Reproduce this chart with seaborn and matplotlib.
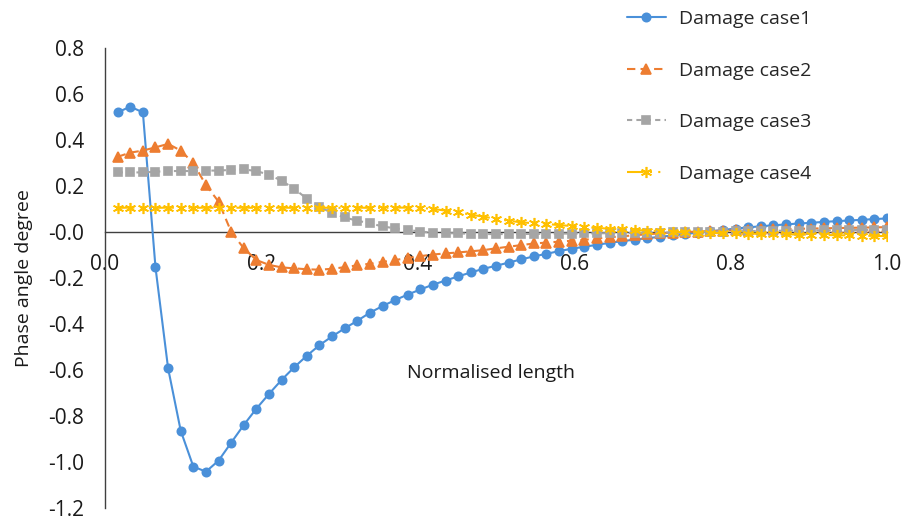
import numpy as np
import pandas as pd
import seaborn as sns
import matplotlib.pyplot as plt
from matplotlib.ticker import FormatStrFormatter

sns.set_style('white')
plt.rcParams['font.family'] = ['Open Sans', 'DejaVu Sans']

# sampling positions along the beam (62 stations)
x = [i / 62 for i in range(1, 63)]

case1 = [0.520, 0.545, 0.520, -0.154, -0.593, -0.864, -1.020, -1.042, -0.994, -0.916,
         -0.839, -0.768, -0.704, -0.643, -0.588, -0.538, -0.492, -0.454, -0.419, -0.386,
         -0.351, -0.322, -0.296, -0.272, -0.250, -0.229, -0.211, -0.193, -0.176, -0.160,
         -0.147, -0.133, -0.119, -0.106, -0.095, -0.083, -0.073, -0.064, -0.056, -0.047,
         -0.040, -0.033, -0.027, -0.021, -0.015, -0.009, -0.003, 0.003, 0.009, 0.015,
         0.020, 0.025, 0.029, 0.033, 0.037, 0.040, 0.044, 0.047, 0.050, 0.053,
         0.056, 0.059]
case2 = [0.327, 0.345, 0.354, 0.368, 0.383, 0.354, 0.299, 0.204, 0.132, 0.001,
         -0.071, -0.122, -0.143, -0.154, -0.158, -0.162, -0.164, -0.160, -0.153, -0.145,
         -0.138, -0.130, -0.122, -0.113, -0.105, -0.098, -0.093, -0.089, -0.084, -0.079,
         -0.071, -0.064, -0.057, -0.050, -0.046, -0.042, -0.038, -0.034, -0.028, -0.023,
         -0.019, -0.014, -0.010, -0.006, -0.003, 0.000, 0.002, 0.004, 0.006, 0.008,
         0.009, 0.011, 0.012, 0.013, 0.014, 0.015, 0.016, 0.017, 0.018, 0.019,
         0.020, 0.021]
case3 = [0.259, 0.259, 0.259, 0.262, 0.265, 0.265, 0.265, 0.267, 0.267, 0.270,
         0.272, 0.265, 0.249, 0.223, 0.188, 0.145, 0.110, 0.082, 0.063, 0.049,
         0.038, 0.024, 0.016, 0.009, 0.002, -0.003, -0.005, -0.006, -0.008, -0.009,
         -0.009, -0.009, -0.009, -0.008, -0.008, -0.007, -0.007, -0.006, -0.006, -0.005,
         -0.005, -0.004, -0.004, -0.003, -0.002, -0.001, 0.000, 0.001, 0.002, 0.003,
         0.004, 0.004, 0.005, 0.006, 0.006, 0.007, 0.007, 0.008, 0.008, 0.009,
         0.009, 0.010]
case4 = [0.105, 0.106, 0.105, 0.105, 0.106, 0.105, 0.105, 0.106, 0.105, 0.105,
         0.106, 0.105, 0.105, 0.106, 0.105, 0.105, 0.106, 0.105, 0.105, 0.106,
         0.105, 0.105, 0.106, 0.106, 0.105, 0.100, 0.093, 0.086, 0.075, 0.067,
         0.057, 0.049, 0.042, 0.038, 0.035, 0.030, 0.026, 0.021, 0.018, 0.014,
         0.011, 0.009, 0.006, 0.004, 0.001, -0.001, -0.003, -0.004, -0.005, -0.006,
         -0.007, -0.008, -0.009, -0.010, -0.011, -0.012, -0.013, -0.014, -0.015, -0.016,
         -0.017, -0.018]

labels = ['Damage case1', 'Damage case2', 'Damage case3', 'Damage case4']
colors = ['#4A90D9', '#ED7D31', '#A5A5A5', '#FFC000']
markers = ['o', '^', 's', (6, 2, 0)]
msizes = [6, 7, 6, 8]
dashes = [(None, None), (4, 2.5), (2.5, 2), (8, 3, 1, 3, 1, 3)]

df = pd.DataFrame({'x': x, labels[0]: case1, labels[1]: case2,
                   labels[2]: case3, labels[3]: case4})

fig = plt.figure(figsize=(9.04, 5.17), dpi=100)
ax = fig.add_axes([0.1162, 0.0174, 0.8650, 0.8898])

for i, lab in enumerate(labels):
    kw = dict(color=colors[i], marker=markers[i], markersize=msizes[i],
              markeredgecolor=colors[i], markerfacecolor=colors[i],
              markeredgewidth=1.2, linewidth=1.5, label=lab, zorder=3 + i)
    if dashes[i][0] is not None:
        kw['dashes'] = dashes[i]
    sns.lineplot(data=df, x='x', y=lab, ax=ax, **kw)

ax.set_xlim(0, 1)
ax.set_ylim(-1.2, 0.8)
ax.set_xticks(np.arange(0, 1.01, 0.2))
ax.set_yticks(np.arange(-1.2, 0.81, 0.2))
ax.xaxis.set_major_formatter(FormatStrFormatter('%.1f'))
ax.yaxis.set_major_formatter(FormatStrFormatter('%.1f'))

ax.spines['top'].set_visible(False)
ax.spines['right'].set_visible(False)
ax.spines['bottom'].set_position(('data', 0))
for s in ['left', 'bottom']:
    ax.spines[s].set_color('#404040')
    ax.spines[s].set_linewidth(1)
    ax.spines[s].set_zorder(2)

ax.tick_params(axis='both', direction='out', length=5, width=1, color='#404040',
               labelsize=15, labelcolor='#1a1a1a')
ax.tick_params(axis='x', pad=11)
ax.tick_params(axis='y', pad=10)

ax.set_xlabel('Normalised length', fontsize=14, color='#1a1a1a')
ax.xaxis.set_label_coords(0.494, 0.313)
ax.set_ylabel('Phase angle degree', fontsize=14, color='#1a1a1a')
ax.yaxis.set_label_coords(-0.092, 0.5)

ax.legend(loc='upper left', bbox_to_anchor=(627 / 904, 1 - 10 / 517),
          bbox_transform=fig.transFigure, frameon=False, fontsize=14,
          labelspacing=1.73, handlelength=2.0, handletextpad=0.65,
          borderaxespad=0, borderpad=0)

fig.savefig('out.png', dpi=100)
